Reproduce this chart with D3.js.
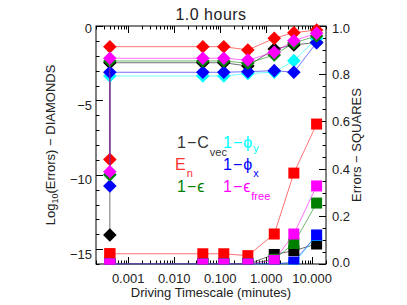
<!DOCTYPE html>
<html><head><meta charset="utf-8">
<script src="https://cdn.jsdelivr.net/npm/d3@7"></script>
<style>
body{margin:0;background:#fff;}
text{font-family:"Liberation Sans",Arial,sans-serif;fill:#222;}
</style></head>
<body><svg id="c" width="407" height="305"></svg>
<script>
// ---- data ----
const timescales = [0.0004, 0.0004, 0.042, 0.12, 0.4, 1.5, 4, 12.5];
const seriesNames = ["black","cyan","red","blue","green","magenta"];
const seriesColors = ["#000000","#00ffff","#ff0000","#0000ff","#008000","#ff00ff"];
// log10 errors (diamonds)
const dBlack   = [-14.05, -2.47, -2.47, -2.47, -2.69, -1.55, -1.28, -1.10];
const dCyan    = [-10.0, -3.36, -3.36, -3.36, -3.20, -3.10, -2.33, -0.85];
const dRed     = [-8.97, -1.39, -1.39, -1.39, -1.61, -0.83, -0.45, -0.27];
const dBlue    = [-10.76, -3.11, -3.11, -3.11, -3.07, -3.00, -3.11, -1.12];
const dGreen   = [-10.0, -2.35, -2.35, -2.35, -2.50, -1.95, -1.14, -0.67];
const dMagenta = [-9.8, -2.17, -2.17, -2.17, -2.29, -1.77, -0.99, -0.49];
// errors (squares)
const sBlack   = [0, 0, 0, 0, 0, 0.040, 0.056, 0.084];
const sCyan    = [0, 0, 0, 0, 0, 0, 0, 0.12];
const sRed     = [0.043, 0.043, 0.043, 0.043, 0.035, 0.126, 0.382, 0.588];
const sBlue    = [0, 0, 0, 0, 0, 0, 0.008, 0.122];
const sGreen   = [0, 0, 0, 0, 0, 0.02, 0.086, 0.256];
const sMagenta = [0, 0, 0, 0, 0, 0.015, 0.126, 0.328];
const diamonds = [dBlack,dCyan,dRed,dBlue,dGreen,dMagenta];
const squares  = [sBlack,sCyan,sRed,sBlue,sGreen,sMagenta];
const xTicks = [0.001, 0.01, 0.1, 1, 10];
const yLeftTicks = [0, -5, -10, -15];
const yRightTicks = [0, 0.2, 0.4, 0.6, 0.8, 1.0];
const title = "1.0 hours";

// ---- layout ----
const L=96, R=326, T=26, B=264;
const svg = d3.select("#c");
const x = d3.scaleLog().domain([0.0002, 20]).range([L, R]);
const yl = d3.scaleLinear().domain([-16, 0]).range([B, T]);
const yr = d3.scaleLinear().domain([0, 1]).range([B, T]);

svg.append("defs").append("clipPath").attr("id","clip")
  .append("rect").attr("x",L).attr("y",T-1).attr("width",R-L).attr("height",B-T+1.5);

// title
svg.append("text").attr("x",(L+R)/2).attr("y",20).attr("text-anchor","middle")
  .attr("font-size",16).style("letter-spacing","0.5px").text(title);

// frame
svg.append("rect").attr("x",L).attr("y",T).attr("width",R-L).attr("height",B-T)
  .attr("fill","none").attr("stroke","#000").attr("stroke-width",1);

// x ticks (bottom & top), inward
const minorX = [];
for (let e=-4; e<=1; e++) for (let k=1;k<=9;k++){ const v=k*Math.pow(10,e); if(v>=0.0002 && v<=20) minorX.push(v);}
const g = svg.append("g").attr("stroke","#000").attr("stroke-width",1);
minorX.forEach(v=>{
  const major = xTicks.includes(+v.toPrecision(6));
  const len = major?7:3.5;
  const xp = Math.round(x(v))+0.5;
  g.append("line").attr("x1",xp).attr("x2",xp).attr("y1",B).attr("y2",B-len);
  g.append("line").attr("x1",xp).attr("x2",xp).attr("y1",T).attr("y2",T+len);
});
xTicks.forEach(v=>{
  svg.append("text").attr("x",x(v)).attr("y",283).attr("text-anchor","middle")
    .attr("font-size",13).text(d3.format(".3f")(v));
});
svg.append("text").attr("x",(L+R)/2).attr("y",297).attr("text-anchor","middle")
  .attr("font-size",13).text("Driving Timescale (minutes)");

// left axis ticks
for (let v=-16; v<=0; v++){
  const major = v%5===0;
  const yp = Math.round(yl(v))+0.5;
  g.append("line").attr("x1",L).attr("x2",L+(major?7:3.5)).attr("y1",yp).attr("y2",yp);
}
yLeftTicks.forEach(v=>{
  svg.append("text").attr("x",L-4).attr("y",yl(v)+(v===0?7:9.5)).attr("text-anchor","end")
    .attr("font-size",13).text(d3.format("d")(v));
});
// right axis ticks
for (let i=0;i<=20;i++){
  const v=i*0.05; const major = i%4===0;
  const yp = Math.round(yr(v))+0.5;
  g.append("line").attr("x1",R).attr("x2",R-(major?7:3.5)).attr("y1",yp).attr("y2",yp);
}
yRightTicks.forEach(v=>{
  svg.append("text").attr("x",R+6).attr("y",yr(v)+(v===1?7:(v===0?2.5:5))).attr("text-anchor","start")
    .attr("font-size",13).text(d3.format(".1f")(v));
});

// axis titles
const lt = svg.append("text").attr("transform",`translate(55,${(T+B)/2}) rotate(-90)`)
  .attr("text-anchor","middle").attr("font-size",13);
lt.append("tspan").text("Log");
lt.append("tspan").attr("font-size",9).attr("dy",3).text("10");
lt.append("tspan").attr("dy",-3).text("(Errors) \u2212 DIAMONDS");
svg.append("text").attr("transform",`translate(361,${(T+B)/2}) rotate(-90)`)
  .attr("text-anchor","middle").attr("font-size",13).text("Errors \u2212 SQUARES");

// series
const plot = svg.append("g").attr("clip-path","url(#clip)");
const sq = 11, dia = 6.8;
seriesNames.forEach((n,i)=>{
  const col = seriesColors[i];
  const ptsD = timescales.map((t,j)=>[x(t), yl(diamonds[i][j])]);
  const ptsS = timescales.map((t,j)=>[x(t), yr(squares[i][j])]);
  const line = d3.line();
  svg.append("path").attr("d",line(ptsD)).attr("fill","none").attr("stroke",col)
    .attr("stroke-width",0.8).attr("opacity",0.7);
  plot.append("path").attr("d",line(ptsS)).attr("fill","none").attr("stroke",col)
    .attr("stroke-width",0.8).attr("opacity",0.7);
  svg.append("g").selectAll("path").data(ptsD).join("path")
    .attr("d",d=>`M${d[0]},${d[1]-dia}L${d[0]+dia},${d[1]}L${d[0]},${d[1]+dia}L${d[0]-dia},${d[1]}Z`)
    .attr("fill",col);
  plot.append("g").selectAll("rect").data(ptsS).join("rect")
    .attr("x",d=>d[0]-sq/2).attr("y",d=>d[1]-sq/2).attr("width",sq).attr("height",sq)
    .attr("fill",col);
});

// legend
const legend = [
  {main:"1\u2212C", sub:"vec", col:"#333333", x:177, y:148, sdy:8},
  {main:"1\u2212\u03d5", sub:"y", col:"#00ffff", x:223, y:148, sdy:4},
  {main:"E", sub:"n", col:"#ff3030", x:175, y:170, sdy:7},
  {main:"1\u2212\u03d5", sub:"x", col:"#0000ff", x:223, y:170, sdy:7},
  {main:"1\u2212\u03f5", sub:"", col:"#008000", x:177, y:192, sdy:0},
  {main:"1\u2212\u03f5", sub:"free", col:"#ff00ff", x:223, y:192, sdy:8}
];
legend.forEach(e=>{
  const t = svg.append("text").attr("x",e.x).attr("y",e.y).attr("font-size",16)
    .style("fill",e.col).style("letter-spacing","1px");
  t.append("tspan").text(e.main);
  if (e.sub) t.append("tspan").attr("dy",e.sdy).attr("font-size",11).style("letter-spacing","0px").text(e.sub);
});
</script></body></html>
